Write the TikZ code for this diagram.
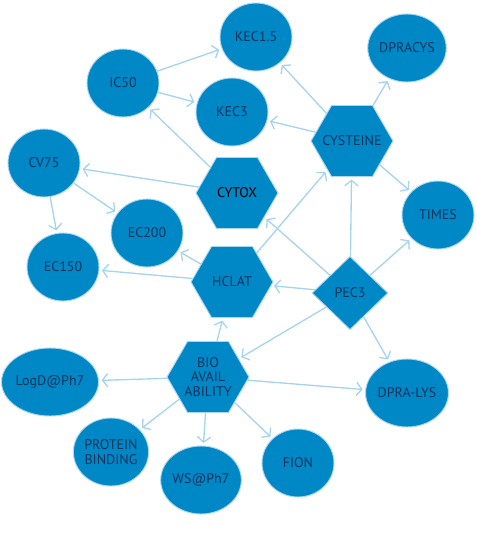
\documentclass[tikz,border=0pt]{standalone}
\usepackage{fontspec}
\setmainfont{PT Sans}
\usetikzlibrary{arrows.meta,shapes.geometric}

\definecolor{nodeblue}{RGB}{0,135,198}
\definecolor{rimblue}{RGB}{170,215,238}
\definecolor{linkblue}{RGB}{165,212,236}
\definecolor{textnavy}{RGB}{22,52,92}

\begin{document}
\begin{tikzpicture}[x=0.75pt,y=-0.75pt,
  >={Straight Barb[length=4pt,width=10pt]},
  base/.style={fill=nodeblue,draw=rimblue,line width=0.7pt,inner sep=0pt,
    text=textnavy,font=\fontsize{10.5}{11}\selectfont,align=center},
  lbl/.style={text=textnavy,font=\fontsize{10.5}{11}\selectfont,align=center},
  circ/.style={base,ellipse,minimum width=54pt,minimum height=51pt},
  hexa/.style={base,regular polygon,regular polygon sides=6,minimum size=61.5pt},
  diam/.style={base,diamond,minimum width=57pt,minimum height=55pt},
  link/.style={->,draw=linkblue,line width=1pt,shorten >=2pt,shorten <=0pt}]
  \useasboundingbox (0,0) rectangle (477,550);
  % outer measures
  \node[circ] (kec15) at (256,37) {KEC1.5};
  \node[circ] (dpracys) at (407,48) {DPRACYS};
  \node[circ] (ic50) at (123,83) {IC50};
  \node[circ] (kec3) at (232,112) {KEC3};
  \node[circ] (cv75) at (44,163) {CV75};
  \node[circ] (ec200) at (147,233) {EC200};
  \node[circ] (ec150) at (63,267) {EC150};
  \node[circ] (times) at (438,215) {TIMES};
  \node[circ] (dpralys) at (407,393) {DPRA-LYS};
  \node[circ] (logd) at (50,382) {LogD@Ph7};
  \node[circ] (protein) at (111,452) {PROTEIN\\BINDING};
  \node[circ] (ws) at (201,480) {WS@Ph7};
  \node[circ] (fion) at (298,463) {FION};
  % assays (text as label, so the hexagon keeps its size)
  \node[hexa,label={[lbl,text=black]center:CYTOX}] (cytox) at (237,193) {};
  \node[hexa,label={[lbl]center:CYSTEINE}] (cysteine) at (352,141) {};
  \node[hexa,label={[lbl]center:HCLAT}] (hclat) at (232,282) {};
  \node[hexa,label={[lbl]center:BIO\\AVAIL\\ABILITY}] (bio) at (208,377) {};
  \node[diam] (pec3) at (350,293) {PEC3};
  % links
  \draw[link] (ic50) -- (kec15);
  \draw[link] (ic50) -- (kec3);
  \draw[link] (cytox) -- (ic50);
  \draw[link] (cytox) -- (cv75);
  \draw[link] (cv75) -- (ec200);
  \draw[link] (cv75) -- (ec150);
  \draw[link] (cysteine) -- (kec15);
  \draw[link] (cysteine) -- (kec3);
  \draw[link] (cysteine) -- (dpracys);
  \draw[link] (cysteine) -- (times);
  \draw[link] (hclat) -- (cysteine);
  \draw[link] (hclat) -- (ec200);
  \draw[link] (hclat) -- (ec150);
  \draw[link] (pec3) -- (cytox);
  \draw[link] (pec3) -- (cysteine);
  \draw[link] (pec3) -- (times);
  \draw[link] (pec3) -- (hclat);
  \draw[link] (pec3) -- (bio);
  \draw[link] (pec3) -- (dpralys);
  \draw[link] (bio) -- (hclat);
  \draw[link] (bio) -- (logd);
  \draw[link] (bio) -- (dpralys);
  \draw[link] (bio) -- (protein);
  \draw[link] (bio) -- (ws);
  \draw[link] (bio) -- (fion);
\end{tikzpicture}
\end{document}
